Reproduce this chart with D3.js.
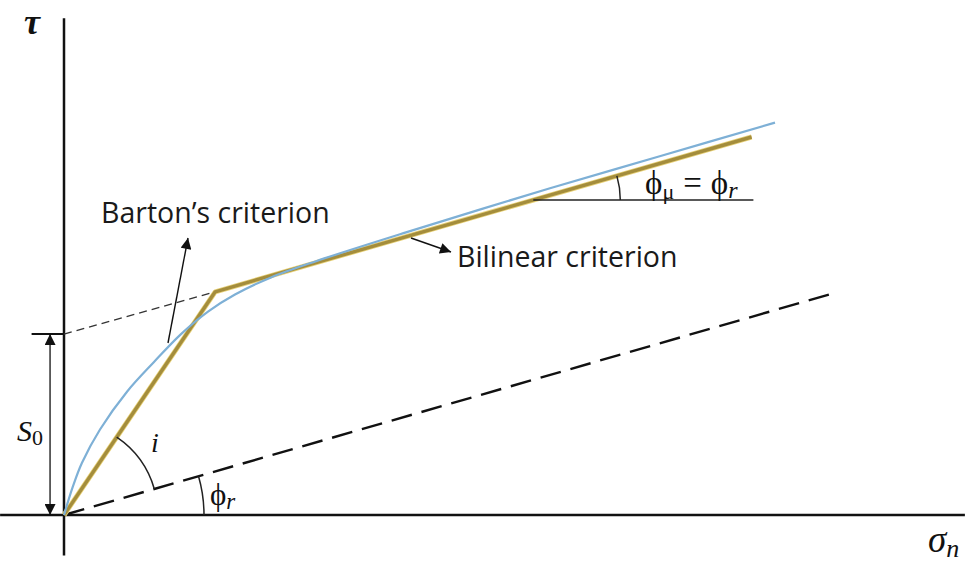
<!DOCTYPE html>
<html>
<head>
<meta charset="utf-8">
<script src="https://cdn.jsdelivr.net/npm/d3@7"></script>
<style>
    body { margin: 0; background: #fff; }
    .math { font-family: "Liberation Serif", "DejaVu Serif", serif; fill: #111; }
    .label { font-family: "Open Sans", Lato, sans-serif; fill: #1a1a1a; }
</style>
</head>
<body>
<svg id="chart" width="975" height="563"></svg>
<script>
// Barton's criterion curve (normal stress, shear stress)
const bartonX = [0, 1, 2, 4, 7, 10, 13, 16, 19, 23, 28, 38, 54, 66, 79];
const bartonY = [0, 3.2, 5.8, 9.5, 13.7, 17.0, 20.1, 22.6, 24.5, 26.4, 28.2, 31.4, 36.3, 39.8, 43.6];

// bilinear criterion: origin -> knee -> end
const bilinearX = [0, 16.8, 76.4];
const bilinearY = [0, 24.8, 42.0];

// residual friction line through origin, and the S0 intercept line
const residualX = [0, 85.7];
const residualY = [0, 24.7];
const s0X = [0, 16.8];
const s0Y = [20.1, 24.8];

const svg = d3.select("#chart");

const x = d3.scaleLinear().domain([0, 100]).range([64, 964]);
const y = d3.scaleLinear().domain([0, 55]).range([515, 20]);

const line = d3.line()
    .x(d => x(d[0]))
    .y(d => y(d[1]));

// arrow head marker
svg.append("defs")
    .append("marker")
    .attr("id", "arrow")
    .attr("viewBox", "0 0 10 10")
    .attr("refX", 10)
    .attr("refY", 5)
    .attr("markerUnits", "userSpaceOnUse")
    .attr("markerWidth", 12)
    .attr("markerHeight", 11)
    .attr("orient", "auto-start-reverse")
    .append("path")
    .attr("d", "M0,0 L10,5 L0,10 z")
    .attr("fill", "#111");

// axes
svg.append("line")
    .attr("x1", x(0)).attr("x2", x(0))
    .attr("y1", y(55.2)).attr("y2", y(-4.5))
    .attr("stroke", "#111").attr("stroke-width", 2.5);

svg.append("line")
    .attr("x1", x(-7.1)).attr("x2", x(100.1))
    .attr("y1", y(0)).attr("y2", y(0))
    .attr("stroke", "#111").attr("stroke-width", 2.5);

// dashed lines
svg.append("path")
    .datum(d3.zip(s0X, s0Y))
    .attr("d", line)
    .attr("fill", "none")
    .attr("stroke", "#333")
    .attr("stroke-width", 1.4)
    .attr("stroke-dasharray", "8,5");

svg.append("path")
    .datum(d3.zip(residualX, residualY))
    .attr("d", line)
    .attr("fill", "none")
    .attr("stroke", "#111")
    .attr("stroke-width", 2.4)
    .attr("stroke-dasharray", "21,10");

// S0 tick and dimension arrow
svg.append("line")
    .attr("x1", x(-3.6)).attr("x2", x(0))
    .attr("y1", y(s0Y[0])).attr("y2", y(s0Y[0]))
    .attr("stroke", "#111").attr("stroke-width", 2);

svg.append("line")
    .attr("x1", x(-1.55)).attr("x2", x(-1.55))
    .attr("y1", y(s0Y[0])).attr("y2", y(0))
    .attr("stroke", "#111").attr("stroke-width", 1.3)
    .attr("marker-start", "url(#arrow)")
    .attr("marker-end", "url(#arrow)");

// bilinear criterion
svg.append("path")
    .datum(d3.zip(bilinearX, bilinearY))
    .attr("d", line)
    .attr("fill", "none")
    .attr("stroke", "#e8d27a")
    .attr("stroke-width", 5)
    .attr("stroke-linejoin", "round");

svg.append("path")
    .datum(d3.zip(bilinearX, bilinearY))
    .attr("d", line)
    .attr("fill", "none")
    .attr("stroke", "#a48d3c")
    .attr("stroke-width", 3.4)
    .attr("stroke-linejoin", "round");

// Barton's curve
svg.append("path")
    .datum(d3.zip(bartonX, bartonY))
    .attr("d", line.curve(d3.curveCatmullRom))
    .attr("fill", "none")
    .attr("stroke", "#7eb0d6")
    .attr("stroke-width", 2.2);

// angle arcs
const arc = d3.arc();
const angI0 = Math.atan2(bilinearY[1], bilinearX[1]);
const angR = Math.atan2(residualY[1], residualX[1]);

function drawArc(cx, cy, r, a0, a1) {
    svg.append("path")
        .attr("transform", `translate(${cx},${cy})`)
        .attr("d", arc({ innerRadius: r, outerRadius: r,
            startAngle: Math.PI / 2 - a0, endAngle: Math.PI / 2 - a1 }))
        .attr("fill", "none")
        .attr("stroke", "#222")
        .attr("stroke-width", 1.5);
}

drawArc(x(0), y(0), 94, angI0, angR);
drawArc(x(0), y(0), 140, angR, 0);

// horizontal reference for phi_mu
const hY = 35.0;
const upperSlope = (bilinearY[2] - bilinearY[1]) / (bilinearX[2] - bilinearX[1]);
const hX0 = bilinearX[1] + (hY - bilinearY[1]) / upperSlope;
svg.append("line")
    .attr("x1", x(hX0)).attr("x2", x(76.6))
    .attr("y1", y(hY)).attr("y2", y(hY))
    .attr("stroke", "#222").attr("stroke-width", 1.5);
drawArc(x(hX0), y(hY), 87, Math.atan(upperSlope), 0);

// annotation arrows
svg.append("line")
    .attr("x1", 168).attr("y1", 343)
    .attr("x2", 188).attr("y2", 238)
    .attr("stroke", "#111").attr("stroke-width", 1.4)
    .attr("marker-end", "url(#arrow)");

svg.append("line")
    .attr("x1", 411).attr("y1", 238)
    .attr("x2", 451).attr("y2", 252)
    .attr("stroke", "#111").attr("stroke-width", 1.4)
    .attr("marker-end", "url(#arrow)");

// text labels
svg.append("text").attr("class", "label")
    .attr("x", 101).attr("y", 223)
    .attr("font-size", 28.5)
    .text("Barton’s criterion");

svg.append("text").attr("class", "label")
    .attr("x", 457).attr("y", 267)
    .attr("font-size", 28.5)
    .text("Bilinear criterion");

svg.append("text").attr("class", "math")
    .attr("x", 24).attr("y", 34)
    .attr("font-size", 36).attr("font-style", "italic")
    .attr("font-weight", "bold")
    .text("τ");

let sig = svg.append("text").attr("class", "math")
    .attr("x", 928).attr("y", 552)
    .attr("font-size", 37);
sig.append("tspan").attr("font-style", "italic").text("σ");
sig.append("tspan").attr("font-style", "italic").attr("font-size", 26).attr("dy", 5).text("n");

let s0 = svg.append("text").attr("class", "math")
    .attr("x", 17).attr("y", 441)
    .attr("font-size", 30);
s0.append("tspan").attr("font-style", "italic").text("S");
s0.append("tspan").attr("font-size", 22).attr("dy", 4).text("0");

svg.append("text").attr("class", "math")
    .attr("x", 151).attr("y", 452)
    .attr("font-size", 28).attr("font-style", "italic")
    .text("i");

let pr = svg.append("text").attr("class", "math")
    .attr("x", 210).attr("y", 505)
    .attr("font-size", 31);
pr.append("tspan").text("ϕ");
pr.append("tspan").attr("font-style", "italic").attr("font-size", 23).attr("dy", 4).text("r");

let pm = svg.append("text").attr("class", "math")
    .attr("x", 645).attr("y", 194)
    .attr("font-size", 33);
pm.append("tspan").text("ϕ");
pm.append("tspan").attr("font-size", 22).attr("dy", 5).text("μ");
pm.append("tspan").attr("dy", -5).attr("dx", 9).text("=");
pm.append("tspan").attr("dx", 9).text("ϕ");
pm.append("tspan").attr("font-style", "italic").attr("font-size", 24).attr("dy", 4).text("r");
</script>
</body>
</html>
